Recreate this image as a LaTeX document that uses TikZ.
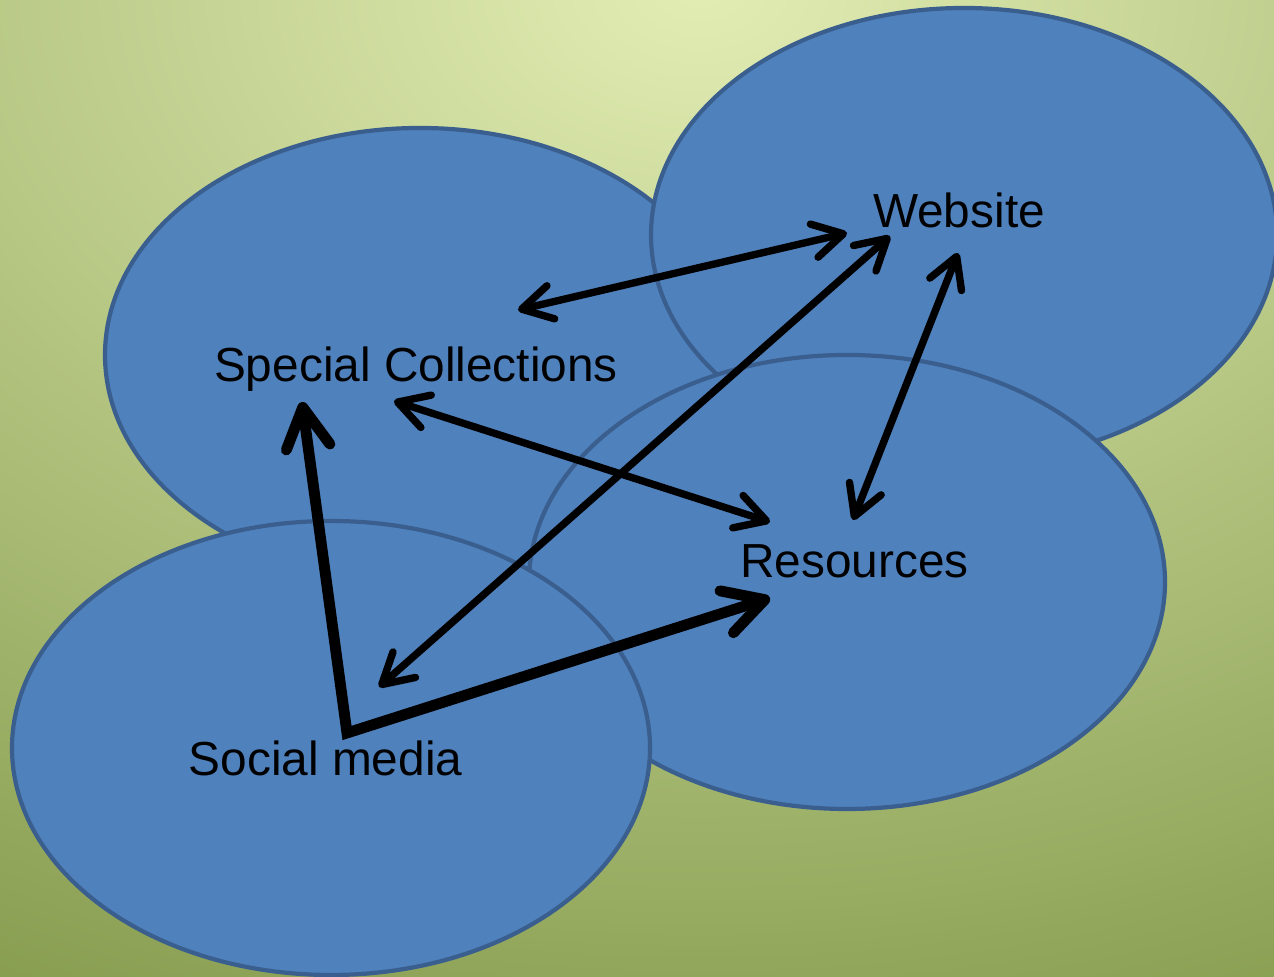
\documentclass[tikz,border=0pt]{standalone}
\usepackage{fontspec}
\setmainfont{Liberation Sans}
\usetikzlibrary{arrows.meta}
\definecolor{bluefill}{HTML}{4F81BD}
\definecolor{blueedge}{HTML}{3A5F8E}
\definecolor{glowin}{HTML}{E2EDB4}
\definecolor{glowout}{HTML}{869C4E}

\begin{document}
\begin{tikzpicture}[
  blob/.style={fill=bluefill, draw=blueedge, line width=1.2pt},
  txt/.style={font=\fontsize{13.6}{16}\selectfont, anchor=base, inner sep=0pt, text=black},
  thinhead/.tip={Straight Barb[length=0.30cm, width=0.34cm, round]},
  boldhead/.tip={Straight Barb[length=0.40cm, width=0.44cm, round]},
  linkboth/.style={draw=black, line width=2.1pt, thinhead-thinhead},
  linkbold/.style={draw=black, line width=3.1pt, miter limit=10, boldhead-boldhead}
]
\useasboundingbox (0,0) rectangle (12.74,9.77);

\begin{scope}
  \clip (0,0) rectangle (12.74,9.77);
  % soft green backdrop, brightest at the top
  \fill[glowout] (0,0) rectangle (12.74,9.77);
  \shade[inner color=glowin, outer color=glowout] (7,9.9) ellipse (16 and 11.3);

  % the four overlapping areas
  \draw[blob] (4.20,6.22) ellipse (3.15 and 2.27);
  \draw[blob] (9.64,7.42) ellipse (3.13 and 2.27);
  \draw[blob] (8.47,3.95) ellipse (3.18 and 2.27);
  \draw[blob] (3.31,2.29) ellipse (3.19 and 2.27);
\end{scope}

% labels
\node[txt] (sc)  at (4.16,5.95) {Special Collections};
\node[txt] (web) at (9.59,7.49) {Website};
\node[txt] (res) at (8.545,3.99) {Resources};
\node[txt] (soc) at (3.255,2.01) {Social media};

% arrow end points
\coordinate (scW)  at (5.18,6.67);
\coordinate (webW) at (8.47,7.44);
\coordinate (webS) at (8.90,7.41);
\coordinate (socW) at (3.79,2.90);
\coordinate (webR) at (9.58,7.24);
\coordinate (resW) at (8.53,4.57);
\coordinate (scR)  at (3.94,5.76);
\coordinate (resS) at (7.70,4.55);
\coordinate (corner) at (3.47,2.44);
\coordinate (scT)  at (3.02,5.75);
\coordinate (resT) at (7.70,3.79);

% two-way links
\draw[linkboth] (scW) -- (webW);
\draw[linkboth] (webS) -- (socW);
\draw[linkboth] (webR) -- (resW);
\draw[linkboth] (scR) -- (resS);

% links out of social media
\draw[linkbold] (scT) -- (corner) -- (resT);
\end{tikzpicture}
\end{document}
